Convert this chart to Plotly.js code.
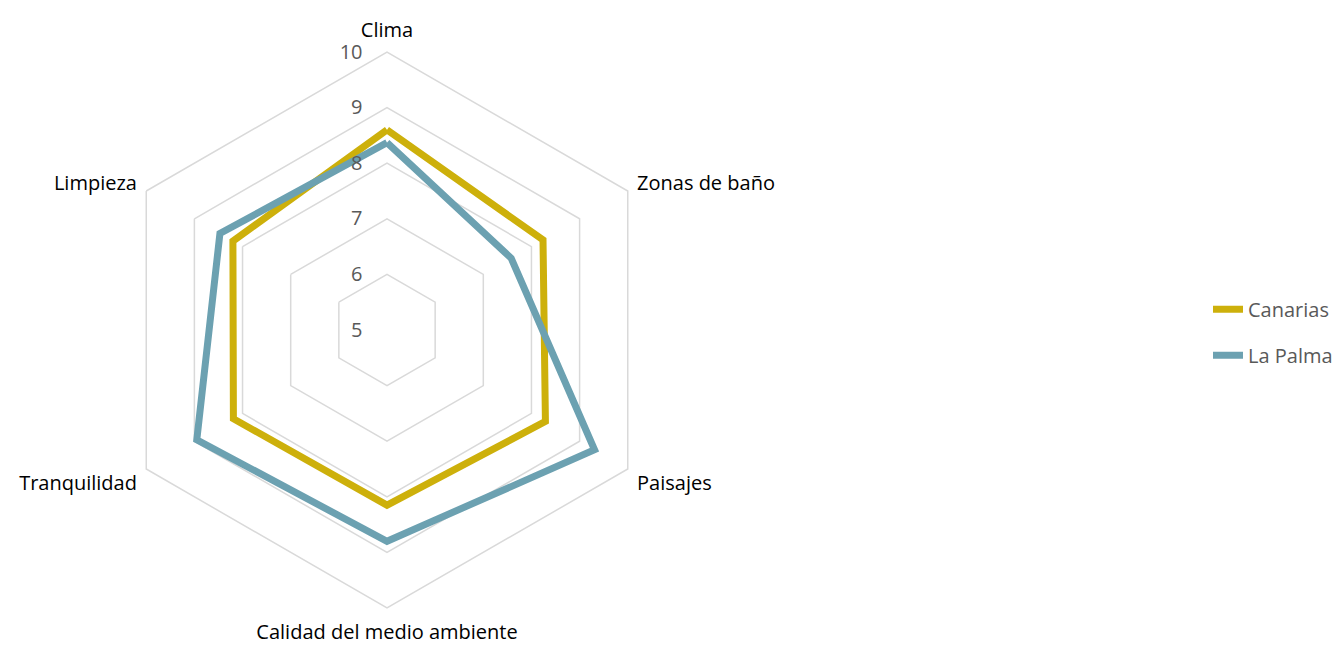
<!DOCTYPE html>
<html>
<head>
<meta charset="utf-8">
<script src="https://cdn.plot.ly/plotly-3.0.1.min.js"></script>
<style>
html,body{margin:0;padding:0;background:#fff;}
#chart{width:1338px;height:645px;}
</style>
</head>
<body>
<div id="chart"></div>
<script>
const categories = ['Clima', 'Zonas de baño', 'Paisajes', 'Calidad del medio ambiente', 'Tranquilidad', 'Limpieza'];
const canarias = [8.6, 8.24, 8.29, 8.15, 8.19, 8.2];
const laPalma = [8.37, 7.58, 9.31, 8.8, 8.95, 8.47];
const radialTicks = [5, 6, 7, 8, 9, 10];
const seriesNames = ['Canarias', 'La Palma'];

const closeLoop = a => a.concat([a[0]]);
const cats = closeLoop(categories);

const colors = ['#CDB00B', '#6CA1B1'];
const data = [canarias, laPalma].map((vals, i) => ({
  type: 'scatterpolar',
  mode: 'lines',
  name: seriesNames[i],
  r: closeLoop(vals),
  theta: cats,
  line: {color: colors[i], width: 7},
  legendgroup: 'g' + i,
  hoverinfo: 'name+r+theta'
}));

const fam = '"Open Sans", sans-serif';

const layout = {
  width: 1338,
  height: 645,
  margin: {l: 0, r: 0, t: 0, b: 0},
  paper_bgcolor: '#ffffff',
  plot_bgcolor: '#ffffff',
  font: {family: fam, size: 20, color: '#595959'},
  showlegend: true,
  legend: {
    x: 1208 / 1338, xanchor: 'left',
    y: 0.485, yanchor: 'middle',
    font: {family: fam, size: 20, color: '#595959'},
    traceorder: 'grouped',
    tracegroupgap: 17,
    bgcolor: 'rgba(0,0,0,0)'
  },
  polar: {
    domain: {x: [109 / 1338, 665 / 1338], y: [37 / 645, 593 / 645]},
    gridshape: 'linear',
    bgcolor: '#ffffff',
    radialaxis: {
      range: [5, 10],
      tickvals: radialTicks,
      ticktext: radialTicks.map(String),
      angle: 90,
      tickangle: 90,
      side: 'counterclockwise',
      showline: false,
      ticks: 'outside',
      ticklen: 17,
      tickcolor: 'rgba(0,0,0,0)',
      showgrid: true,
      gridcolor: '#D9D9D9',
      gridwidth: 1.5,
      tickfont: {family: fam, size: 20, color: '#595959'}
    },
    angularaxis: {
      direction: 'clockwise',
      rotation: 90,
      showgrid: false,
      showline: true,
      linecolor: '#D9D9D9',
      linewidth: 1.5,
      ticks: 'outside',
      ticklen: 6,
      tickcolor: 'rgba(0,0,0,0)',
      tickfont: {family: fam, size: 20, color: '#000000'}
    }
  }
};

Plotly.newPlot('chart', data, layout, {displayModeBar: false, staticPlot: true});
</script>
</body>
</html>
